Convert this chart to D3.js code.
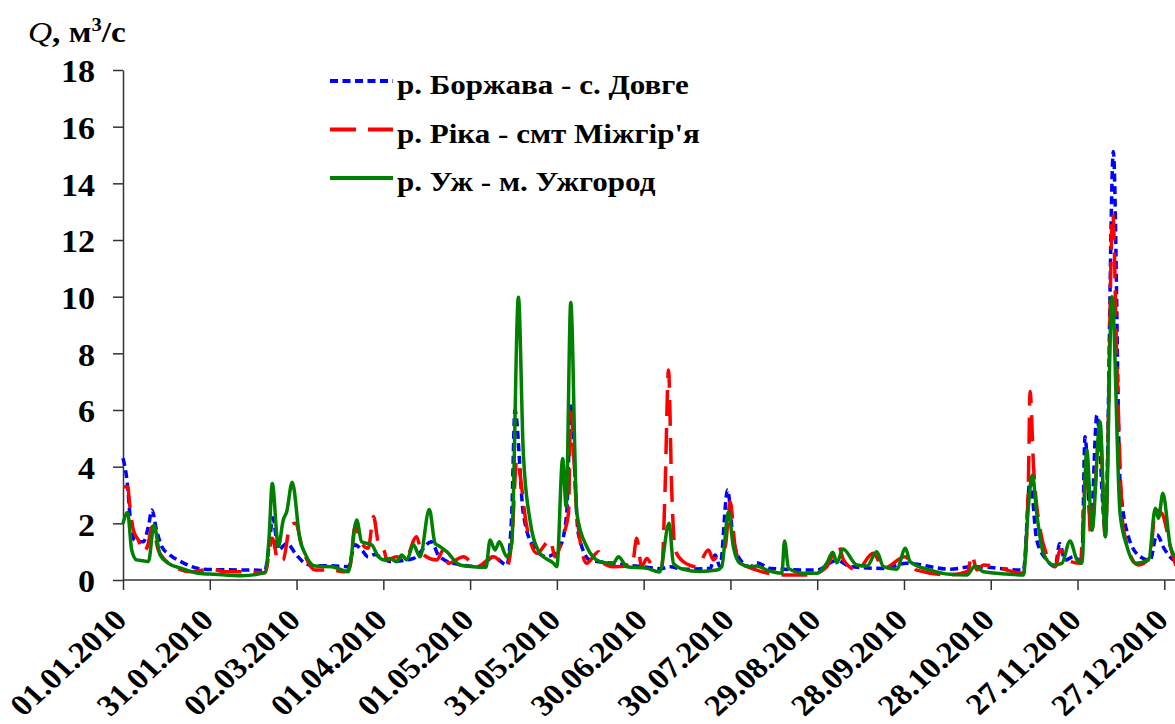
<!DOCTYPE html>
<html>
<head>
<meta charset="utf-8">
<script src="https://cdn.jsdelivr.net/npm/d3@7"></script>
<style>
  body { margin: 0; background: #fff; }
  svg { display: block; }
</style>
</head>
<body>
<svg id="chart" width="1175" height="724"></svg>
<script>
// дати підписів осі X (крок 30 діб)
const tickLabels = ['01.01.2010', '31.01.2010', '02.03.2010', '01.04.2010', '01.05.2010', '31.05.2010',
  '30.06.2010', '30.07.2010', '29.08.2010', '28.09.2010', '28.10.2010', '27.11.2010', '27.12.2010'];
const yTicks = [0, 2, 4, 6, 8, 10, 12, 14, 16, 18];
const seriesNames = ['р. Боржава - с. Довге', "р. Ріка - смт Міжгір'я", 'р. Уж - м. Ужгород'];

// [доба від 01.01.2010, Q м3/с]
const borzhava = [[0,4.3],[1.5,3.4],[2.5,2.2],[4,1.4],[7,1.35],[8.8,1.9],[10,2.47],[11.6,1.76],[13.4,1.18],[16,0.9],
  [20,0.65],[27,0.39],[35,0.36],[45,0.35],[49,0.33],[50.5,1.2],[51.8,2.2],[53.7,1.06],[56.6,1.29],[60,0.88],
  [62.9,0.59],[66.4,0.5],[72,0.5],[77.9,0.47],[80.2,1.24],[82.5,1.06],[84.8,0.82],[87,0.9],[90,0.75],[92.3,0.65],
  [100.4,0.76],[106.7,1.35],[109,0.88],[114.2,0.59],[123.4,0.47],[128.1,0.82],[132.7,0.53],[134.4,2.35],[135.5,6.0],
  [138.4,2.35],[141.9,1.18],[146.5,0.82],[151.1,1.18],[153.4,2.35],[154.8,6.24],[157.4,1.65],[161.5,0.7],[169.5,0.59],
  [181,0.45],[186,0.4],[189.1,0.47],[193.7,0.38],[203,0.41],[204.7,0.88],[206.4,0.47],[209,3.18],[211,1.41],
  [213.9,0.65],[216.8,0.47],[219.1,0.61],[223.7,0.41],[239.9,0.35],[246.8,0.7],[251.4,0.47],[262.9,0.41],[271,0.59],
  [286,0.38],[294,0.47],[311.3,0.35],[313.6,3.53],[315.9,1.41],[319.4,0.7],[322.3,0.47],[323.8,1.29],[325.7,0.7],
  [328.6,0.82],[331.5,0.65],[332.6,5.06],[334.6,1.88],[336.7,5.82],[339.6,1.76],[342.4,15.12],[344.7,3.5],
  [347.6,1.53],[351.7,0.82],[355.1,0.7],[357.4,1.6],[360,1.1],[363.2,0.7],[364,0.65]];

const rika = [[0,3.29],[1.6,3.29],[2.4,2.59],[3.6,1.76],[5.3,1.41],[7,1.0],[8.5,1.2],[10.1,1.88],[12.2,1.06],
  [16.8,0.53],[23.7,0.29],[28,0.35],[30.7,0.38],[35.3,0.29],[41,0.29],[49.1,0.26],[51.6,1.47],[53.7,0.65],[55.4,0.71],
  [57.7,1.88],[59.5,2.0],[62.4,1.0],[66.4,0.35],[72.2,0.35],[76.8,0.29],[78.5,0.5],[80.2,1.88],[82.5,1.29],
  [84.8,1.12],[86.6,2.24],[88.3,1.29],[90.4,1.0],[91.2,0.71],[94.6,0.82],[97.5,0.71],[101.5,1.53],[103.3,0.94],
  [108.5,0.71],[110.8,1.06],[112.5,0.59],[117.7,0.82],[122.3,0.47],[128.1,0.82],[132.7,0.47],[134.5,1.5],[136.1,4.24],
  [139.6,1.88],[143,0.94],[147.7,1.41],[149.4,0.82],[152,1.53],[154,2.35],[154.8,5.94],[156.9,2.35],[160.3,0.59],
  [164.4,1.0],[166.1,0.59],[169.5,0.47],[176,0.5],[177.6,1.47],[179.3,0.47],[181.1,0.76],[183.4,0.47],[186.3,0.47],
  [187.4,3.18],[188.6,7.41],[189.7,3.18],[190.9,1.06],[193.7,0.65],[198.4,0.47],[202.4,1.06],[204.1,0.71],[205.3,0.82],
  [208.2,1.18],[209.9,2.76],[211.6,1.18],[213.3,0.65],[219.1,0.35],[228.3,0.18],[237.5,0.18],[243.3,0.47],[247.3,1.24],
  [249.1,0.71],[253.7,0.35],[259.4,0.94],[262.9,0.41],[270.4,0.82],[274.4,0.35],[285.9,0.18],[292,0.3],[293.5,0.88],
  [295.2,0.35],[297.5,0.53],[311.3,0.24],[313,3.41],[313.6,6.65],[314.8,4.0],[317.1,1.76],[319.4,0.88],[322.3,0.47],
  [324,1.06],[326.3,0.71],[330.9,0.59],[333.2,4.12],[334.6,1.53],[337.8,5.29],[339.6,1.53],[342.2,12.94],[343.6,7.65],
  [345.9,1.76],[351,0.53],[355.1,0.82],[356.9,2.47],[359.2,2.35],[362.1,1.18],[364,0.5]];

const uzh = [[0,2.0],[1.6,2.38],[3,1.06],[4.7,0.71],[7,0.68],[8.8,0.65],[10.7,1.94],[12.8,0.88],[15.7,0.59],
  [20.3,0.41],[26,0.24],[31.8,0.2],[41,0.15],[49.1,0.26],[50.5,1.5],[51.6,3.41],[53.7,1.18],[55.4,2.12],[56.6,2.41],
  [58.5,3.45],[61.2,1.41],[62.9,0.94],[66.4,0.49],[72.2,0.47],[77.9,0.29],[80.8,2.12],[82.5,1.35],[86,1.24],[88.3,0.82],
  [90.4,0.71],[92.3,0.76],[94.6,0.65],[96.4,0.88],[98.1,0.71],[100.4,1.24],[102.7,0.82],[105.9,2.49],[107.9,1.29],
  [109.6,1.18],[111.9,1.0],[116.5,0.53],[121.1,0.47],[125.5,0.45],[126.9,1.41],[128.6,1.06],[130.1,1.35],[132.7,0.82],
  [134.4,1.29],[136.7,9.98],[138.4,4.47],[140.7,2.12],[144.2,0.94],[148.8,0.59],[150,0.47],[152,4.29],[153.2,2.59],
  [154.8,9.79],[156.9,2.35],[160.3,1.18],[164.9,0.65],[169.5,0.59],[171.3,0.82],[174.2,0.47],[181.1,0.41],[185.5,0.28],
  [188.8,2.0],[190.3,0.59],[193.7,0.38],[199.5,0.3],[205.3,0.35],[207,0.47],[209.3,2.41],[211,1.18],[213.3,0.59],
  [216.8,0.47],[219.1,0.49],[222.6,0.35],[227.8,0.24],[228.7,1.38],[230.1,0.41],[235.2,0.24],[239.9,0.24],[243.3,0.59],
  [245.4,0.98],[246.8,0.61],[248.9,1.09],[253.7,0.53],[257.2,0.49],[260.6,1.0],[262.9,0.47],[267.5,0.38],[270.5,1.12],
  [272.1,0.65],[279,0.35],[285.9,0.2],[291.7,0.18],[294.6,0.49],[297.5,0.29],[305.5,0.21],[311.3,0.18],[313,2.59],
  [314.4,3.71],[315.9,2.35],[318.2,0.94],[321.7,0.53],[324.6,0.59],[327.4,1.38],[329.8,0.71],[331.5,0.59],[333.2,4.59],
  [335,1.76],[337.8,5.59],[339.6,1.53],[341.9,10.0],[344.7,2.35],[347.1,1.18],[350,0.59],[354.6,0.71],[356.9,2.53],
  [358,2.18],[359.5,3.06],[362.1,1.18],[364,0.8]];

const svg = d3.select('#chart');
const font = '"Liberation Serif", "Times New Roman", serif';
const stretch = 1.1; // текст у зразку трохи розтягнутий по горизонталі
const margin = {left: 123, top: 70, bottom: 580};
const parseDate = d3.timeParse('%d.%m.%Y');
const start = parseDate(tickLabels[0]);
const dayToDate = d => new Date(start.getTime() + d * 864e5);
const tickDates = tickLabels.map(parseDate);

const x = d3.scaleTime()
  .domain([start, tickDates[tickDates.length - 1]])
  .range([margin.left, 1164.3]);
const y = d3.scaleLinear().domain([0, 18]).range([margin.bottom, margin.top]);

/**
 * Осі
 * */
const yAxis = svg.append('g')
  .attr('transform', `translate(${margin.left},0)`)
  .call(d3.axisLeft(y).tickValues(yTicks).tickSize(10).tickSizeOuter(0).tickPadding(18));
yAxis.select('.domain').attr('stroke', '#333').attr('stroke-width', 1.5);
yAxis.selectAll('.tick line').attr('stroke', '#333').attr('stroke-width', 1.5);
yAxis.selectAll('.tick text').remove();
yAxis.selectAll('.tick').append('text')
  .attr('transform', `translate(-28,0) scale(${stretch},1)`)
  .attr('dy', '0.38em')
  .attr('text-anchor', 'end')
  .attr('fill', '#000')
  .style('font', `bold 31px ${font}`)
  .text(d => d);

const xAxis = svg.append('g')
  .attr('transform', `translate(0,${margin.bottom})`)
  .call(d3.axisBottom(x).tickValues(tickDates).tickSize(10).tickSizeOuter(0).tickFormat(''));
xAxis.select('.domain').attr('d', `M${margin.left},0H1176`).attr('stroke', '#333').attr('stroke-width', 1.5);
xAxis.selectAll('.tick line').attr('stroke', '#333').attr('stroke-width', 1.5);
xAxis.selectAll('.tick').append('text')
  .attr('transform', `translate(5,42) scale(${stretch},1) rotate(-45)`)
  .attr('text-anchor', 'end')
  .attr('fill', '#000')
  .style('font', `bold 30px ${font}`)
  .text((d, i) => tickLabels[i]);

// підпис осі Y
const yTitle = svg.append('text')
  .attr('transform', 'translate(28,42) scale(1.15,1)')
  .attr('fill', '#000')
  .style('font', `bold 29px ${font}`);
yTitle.append('tspan').style('font-style', 'italic').style('font-weight', 'normal').text('Q');
yTitle.append('tspan').text(', м');
yTitle.append('tspan').attr('dy', -11).style('font-size', '18px').text('3');
yTitle.append('tspan').attr('dy', 11).text('/с');

/**
 * Лінії
 * */
const series = [
  {name: seriesNames[0], data: borzhava, color: '#0000ff', dash: '8,4.5'},
  {name: seriesNames[1], data: rika, color: '#ff0000', dash: '26,12'},
  {name: seriesNames[2], data: uzh, color: '#008000', dash: null}
];

const line = d3.line()
  .x(d => x(dayToDate(d[0])))
  .y(d => y(d[1]))
  .curve(d3.curveMonotoneX);

svg.append('g').selectAll('path')
  .data(series)
  .enter().append('path')
  .attr('d', d => line(d.data))
  .attr('fill', 'none')
  .attr('stroke', d => d.color)
  .attr('stroke-width', 3.5)
  .attr('stroke-linejoin', 'round')
  .attr('stroke-dasharray', d => d.dash);

/**
 * Легенда
 * */
const legend = svg.append('g').selectAll('g')
  .data(series)
  .enter().append('g')
  .attr('transform', (d, i) => `translate(330,${81 + i * 48.5})`);
legend.append('line')
  .attr('x1', 0).attr('x2', 63)
  .attr('stroke', d => d.color)
  .attr('stroke-width', 4)
  .attr('stroke-dasharray', d => d.dash);
legend.append('text')
  .attr('transform', 'translate(67,13) scale(1.15,1)')
  .attr('fill', '#000')
  .style('font', `bold 27px ${font}`)
  .text(d => d.name);
</script>
</body>
</html>
